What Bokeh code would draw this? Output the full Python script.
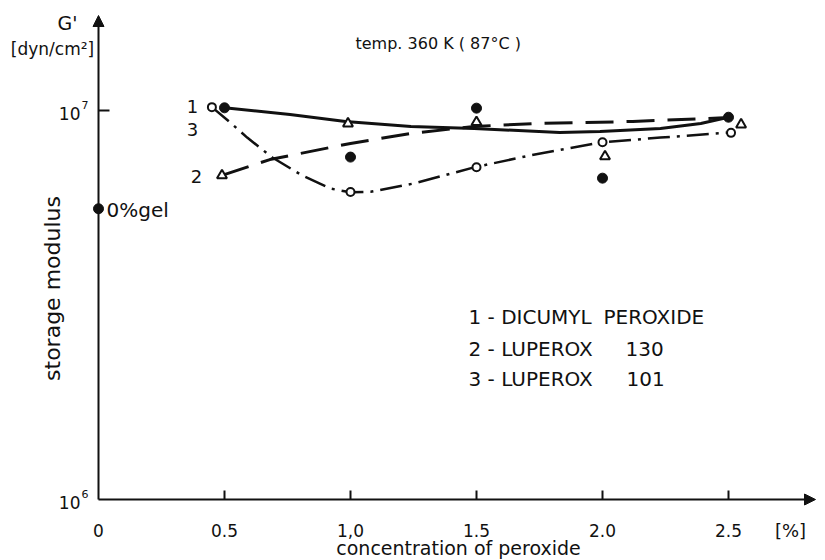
import math
from bokeh.plotting import figure
from bokeh.models import Range1d, Label, Arrow, NormalHead
from bokeh.core.properties import value
from bokeh.embed import file_html
from bokeh.resources import INLINE

# ---------------- data ----------------
# 1 - Dicumyl peroxide (filled circles)
conc_dicumyl = [0.5, 1.0, 1.5, 2.0, 2.5]
g_dicumyl = [1.016e7, 7.59e6, 1.014e7, 6.70e6, 9.61e6]
# 2 - Luperox 130 (open triangles)
conc_lup130 = [0.49, 0.99, 1.5, 2.01, 2.55]
g_lup130 = [6.81e6, 9.26e6, 9.33e6, 7.62e6, 9.20e6]
# 3 - Luperox 101 (open circles)
conc_lup101 = [0.45, 1.0, 1.5, 2.0, 2.51]
g_lup101 = [1.02e7, 6.17e6, 7.15e6, 8.29e6, 8.76e6]
# 0 % gel reference
gel_conc = [0.0]
gel_g = [5.59e6]

# hand-drawn trend curves
curve1_x = [0.5, 0.76, 0.98, 1.24, 1.49, 1.83, 1.99, 2.23, 2.39, 2.5]
curve1_y = [1.016e7, 9.77e6, 9.37e6, 9.10e6, 8.99e6, 8.78e6, 8.83e6, 8.99e6, 9.26e6, 9.61e6]
curve2_x = [0.49, 0.68, 1.0, 1.24, 1.49, 1.73, 2.12, 2.5]
curve2_y = [6.81e6, 7.48e6, 8.23e6, 8.73e6, 9.10e6, 9.26e6, 9.37e6, 9.59e6]
curve3_x = [0.45, 0.52, 0.59, 0.69, 0.81, 0.92, 1.0, 1.08, 1.25, 1.49, 1.71, 1.99, 2.23, 2.51]
curve3_y = [1.02e7, 9.35e6, 8.52e6, 7.57e6, 6.80e6, 6.30e6, 6.16e6, 6.18e6, 6.49e6, 7.14e6,
            7.66e6, 8.27e6, 8.52e6, 8.78e6]

x_ticks = [0, 0.5, 1, 1.5, 2, 2.5]
x_tick_labels = ["0", "0.5", "1,0", "1.5", "2.0", "2.5"]
y_ticks = [1e6, 1e7]
y_tick_labels = ["10", "10"]
y_tick_exponents = ["6", "7"]

FONT = "DejaVu Sans"
INK = "#111111"

# page-pixel helpers for placing annotations / decorations
def X(px):
    return (px - 98) / 252.0

def Y(py):
    return 10 ** (6 + (499 - py) / 389.0)

def up(v, dpx):
    """value dpx screen pixels above v on the log axis"""
    return v * 10 ** (dpx / 389.0)

p = figure(width=825, height=560,
           x_range=Range1d(X(0), X(825)), y_range=Range1d(Y(560), Y(0)),
           y_axis_type="log", x_axis_location=None, y_axis_location=None,
           output_backend="svg", toolbar_location=None, min_border=0)
p.outline_line_color = None
p.grid.visible = False
p.background_fill_color = "white"
p.border_fill_color = "white"

# ---- axes (arrows, ticks, tick labels) ----
head = dict(size=11, fill_color=INK, line_color=INK)
p.add_layout(Arrow(end=NormalHead(**head), x_start=0, y_start=y_ticks[0],
                   x_end=0, y_end=Y(15), line_width=2, line_color=INK))
p.add_layout(Arrow(end=NormalHead(**head), x_start=0, y_start=y_ticks[0],
                   x_end=X(815), y_end=y_ticks[0], line_width=2, line_color=INK))
p.segment(x0=x_ticks[1:], y0=[y_ticks[0]] * 5, x1=x_ticks[1:],
          y1=[up(y_ticks[0], 9)] * 5, line_width=2, line_color=INK)
p.segment(x0=[0], y0=[y_ticks[1]], x1=[X(109)], y1=[y_ticks[1]],
          line_width=2, line_color=INK)

p.text(x=x_ticks, y=[Y(530)] * len(x_ticks), text=x_tick_labels,
       text_align="center", text_baseline="middle", text_font=value(FONT),
       text_font_size="17px", text_color=INK)
p.text(x=[X(80)] * 2, y=y_ticks, text=y_tick_labels, y_offset=3,
       text_align="right", text_baseline="middle", text_font=value(FONT),
       text_font_size="17px", text_color=INK)
p.text(x=[X(81)] * 2, y=y_ticks, text=y_tick_exponents, y_offset=-6,
       text_align="left", text_baseline="middle", text_font=value(FONT),
       text_font_size="11px", text_color=INK)

# ---- trend curves ----
p.line(curve1_x, curve1_y, line_width=3, line_color=INK)
p.line(curve2_x, curve2_y, line_width=3, line_color=INK, line_dash="28 13")
p.line(curve3_x, curve3_y, line_width=2.5, line_color=INK, line_dash="22 7 3 7")

# ---- measured points ----
p.scatter(conc_dicumyl, g_dicumyl, marker="circle", size=10, fill_color=INK, line_color=INK)
p.scatter(conc_lup130, g_lup130, marker="triangle", size=10, fill_color="white",
          line_color=INK, line_width=2)
p.scatter(conc_lup101, g_lup101, marker="circle", size=8, fill_color="white",
          line_color=INK, line_width=2)
p.scatter(gel_conc, gel_g, marker="circle", size=10, fill_color=INK, line_color=INK)

def lab(text, px, py, size="18px", align="left", angle=0.0):
    p.add_layout(Label(x=X(px), y=Y(py), text=text, text_font=FONT,
                       text_font_size=size, text_align=align,
                       text_baseline="middle", text_color=INK, angle=angle))

lab("G'", 67, 22, "19px", "center")
lab("[dyn/cm²]", 52, 48, "17px", "center")
lab("storage modulus", 52, 288, "22px", "center", math.pi / 2)
lab("0%gel", 106, 209, "20px")
lab("1", 192, 106, "18px", "center")
lab("3", 192, 129, "18px", "center")
lab("2", 196, 176, "18px", "center")
lab("temp. 360 K ( 87°C )", 355, 43, "16px")
lab("1 - DICUMYL", 468, 316, "20px")
lab("PEROXIDE", 603, 316, "20px")
lab("2 - LUPEROX", 468, 348, "20px")
lab("130", 625, 348, "20px")
lab("3 - LUPEROX", 468, 378, "20px")
lab("101", 626, 378, "20px")
lab("[%]", 790, 530, "18px", "center")
lab("concentration of peroxide", 458, 547, "19px", "center")

open("out.html", "w").write(file_html(p, INLINE))
